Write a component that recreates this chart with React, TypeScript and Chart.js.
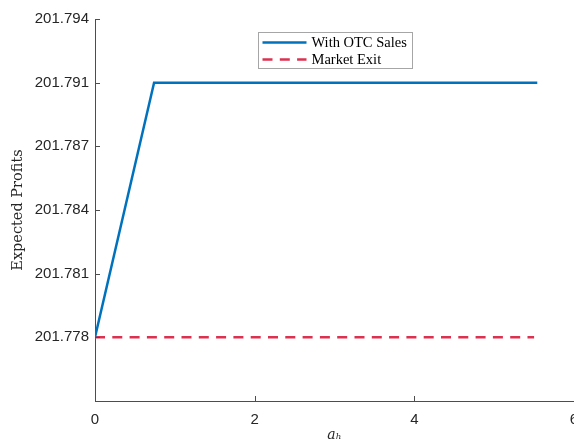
import React, { useEffect, useRef } from "react";
import { Chart, registerables } from "chart.js";

Chart.register(...registerables);

// ---- data ----
const otcX = [0, 0.74, 5.54];
const otcY = [201.7778, 201.7906, 201.7906];
const exitX = [0, 5.5];
const exitY = [201.7778, 201.7778];
const xTicks = [0, 2, 4, 6];
const yTicks = [201.7778, 201.781, 201.7842, 201.7874, 201.7906, 201.7938];
const yMin = 201.7746;
const yMax = 201.7938;
const seriesLabels = ["With OTC Sales", "Market Exit"];

const AXIS_COLOR = "#4d4d4d";
const TEXT_COLOR = "#262626";
const BLUE = "#0072BD";
const RED = "#DC3250";

const decorPlugin = {
  id: "decor",
  afterDraw(chart: any) {
    const ctx = chart.ctx;
    const xs = chart.scales.x;
    const ys = chart.scales.y;
    const area = chart.chartArea;
    ctx.save();
    ctx.strokeStyle = AXIS_COLOR;
    ctx.lineWidth = 1;
    ctx.beginPath();
    ys.ticks.forEach((_t: any, i: number) => {
      const py = Math.round(ys.getPixelForTick(i)) + 0.5;
      ctx.moveTo(area.left, py);
      ctx.lineTo(area.left + 5, py);
    });
    xs.ticks.forEach((_t: any, i: number) => {
      const px = Math.round(xs.getPixelForTick(i)) + 0.5;
      ctx.moveTo(px, area.bottom);
      ctx.lineTo(px, area.bottom - 5);
    });
    ctx.stroke();

    // legend box
    const lx = Math.round(area.left + 163) + 0.5;
    const ly = Math.round(area.top + 13) + 0.5;
    const lw = 154;
    const lh = 36;
    ctx.fillStyle = "#ffffff";
    ctx.fillRect(lx, ly, lw, lh);
    ctx.strokeStyle = "#a6a6a6";
    ctx.lineWidth = 1;
    ctx.strokeRect(lx, ly, lw, lh);
    ctx.font = "14.5px 'Liberation Serif'";
    ctx.textBaseline = "middle";
    ctx.textAlign = "left";
    chart.data.datasets.forEach((ds: any, i: number) => {
      const ry = ly + 10 + i * 17;
      ctx.save();
      ctx.strokeStyle = ds.borderColor;
      ctx.lineWidth = ds.borderWidth;
      ctx.setLineDash(ds.borderDash || []);
      ctx.beginPath();
      ctx.moveTo(lx + 4, ry);
      ctx.lineTo(lx + 48, ry);
      ctx.stroke();
      ctx.restore();
      ctx.fillStyle = "#000000";
      ctx.fillText(ds.label, lx + 53, ry + 0.5);
    });
    ctx.restore();
  },
};

export default function App() {
  const ref = useRef<HTMLCanvasElement>(null);
  useEffect(() => {
    if (!ref.current) return;
    const chart = new Chart(ref.current, {
      type: "line",
      data: {
        datasets: [
          {
            label: seriesLabels[0],
            data: otcX.map((x, i) => ({ x, y: otcY[i] })),
            borderColor: BLUE,
            borderWidth: 2.5,
            pointRadius: 0,
            fill: false,
            tension: 0,
          },
          {
            label: seriesLabels[1],
            data: exitX.map((x, i) => ({ x, y: exitY[i] })),
            borderColor: RED,
            borderWidth: 2.5,
            borderDash: [10, 7.3],
            pointRadius: 0,
            fill: false,
            tension: 0,
          },
        ],
      },
      options: {
        animation: false,
        responsive: false,
        layout: { padding: { left: 0, top: 19, right: -1, bottom: 0 } },
        plugins: { legend: { display: false }, tooltip: { enabled: false } },
        scales: {
          x: {
            type: "linear",
            min: 0,
            max: 6,
            afterBuildTicks: (s: any) => {
              s.ticks = xTicks.map((v) => ({ value: v }));
            },
            afterFit: (s: any) => {
              s.height = 41;
              s.paddingLeft = 0;
              s.paddingRight = 0;
            },
            grid: { display: false, drawTicks: false },
            border: { display: true, color: AXIS_COLOR, width: 1 },
            ticks: {
              padding: 9.5,
              color: TEXT_COLOR,
              font: { family: "'Liberation Sans'", size: 15 },
              maxRotation: 0,
              autoSkip: false,
            },
            title: {
              display: true,
              text: "aₕ",
              color: TEXT_COLOR,
              font: { family: "'DejaVu Serif'", size: 14, style: "italic", lineHeight: 1 },
              padding: { top: 0, bottom: 0 },
            },
          },
          y: {
            type: "linear",
            min: yMin,
            max: yMax,
            afterBuildTicks: (s: any) => {
              s.ticks = yTicks.map((v) => ({ value: v }));
            },
            afterFit: (s: any) => {
              s.width = 95;
            },
            grid: { display: false, drawTicks: false },
            border: { display: true, color: AXIS_COLOR, width: 1 },
            ticks: {
              padding: 6,
              color: TEXT_COLOR,
              font: { family: "'Liberation Sans'", size: 15 },
              callback: (v: any) => Number(v).toFixed(3),
            },
            title: {
              display: true,
              text: "Expected Profits",
              color: TEXT_COLOR,
              font: { family: "'DejaVu Serif'", size: 14.5, lineHeight: 1.2 },
              padding: { top: 10, bottom: 0 },
            },
          },
        },
      },
      plugins: [decorPlugin],
    });
    return () => chart.destroy();
  }, []);
  return (
    <div style={{ position: "absolute", left: 0, top: 0, width: 574, height: 442, background: "#fff" }}>
      <canvas ref={ref} width={574} height={442} />
    </div>
  );
}
